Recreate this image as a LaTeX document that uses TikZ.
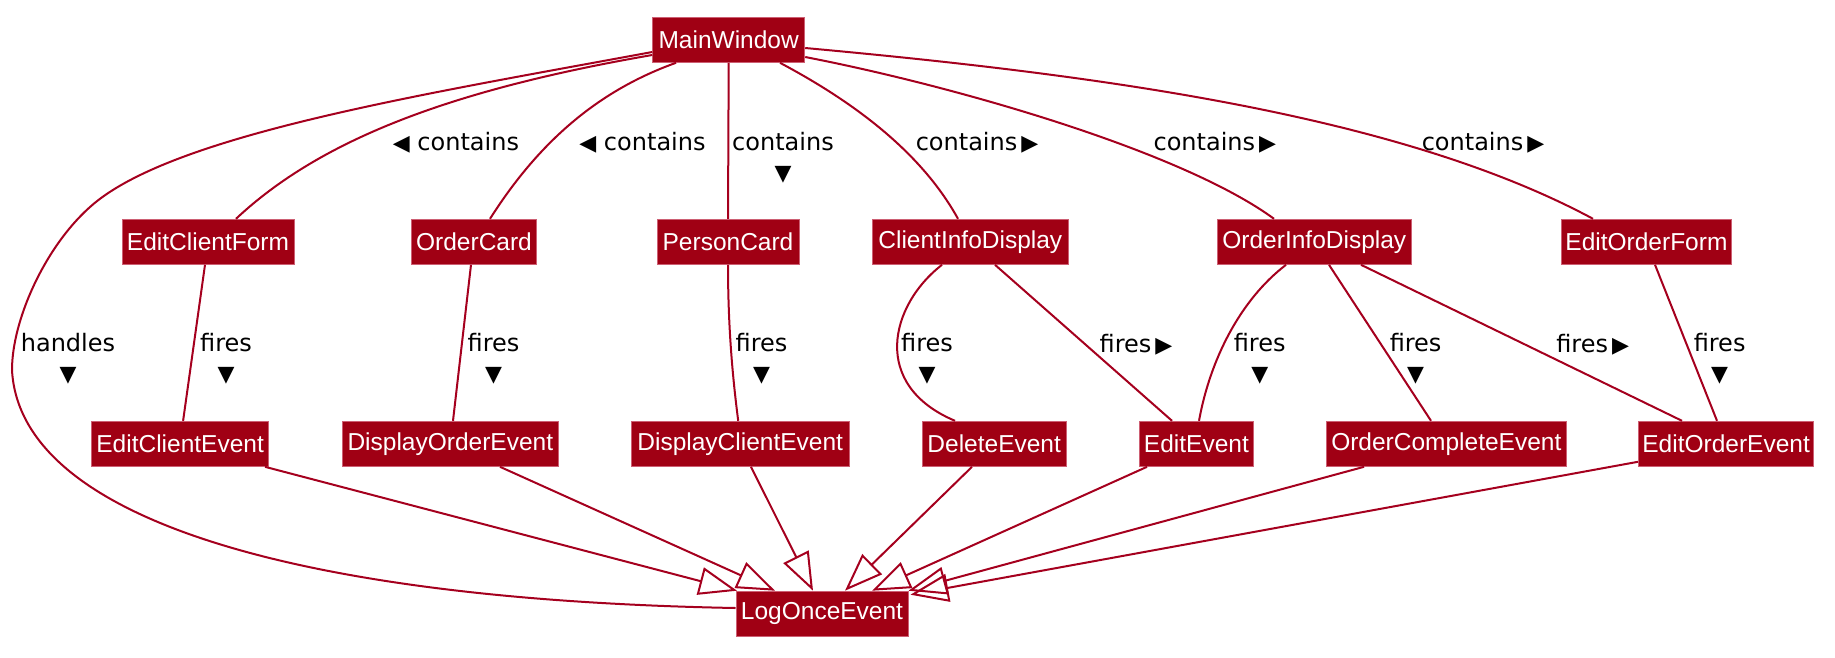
\documentclass[tikz,border=0pt]{standalone}
\usepackage{fontspec}
\setmainfont{DejaVu Sans}
\newfontfamily\boxfont{Liberation Sans}
\usetikzlibrary{arrows.meta}
\definecolor{boxfill}{RGB}{160,0,20}
\definecolor{boxline}{RGB}{205,95,115}
\definecolor{edgecol}{RGB}{165,0,30}
\newcommand\tridown{{\fontsize{22}{22}\selectfont ▼}}
\newcommand\trileft{{\fontsize{22}{22}\selectfont ◀}}
\newcommand\triright{\kern4pt{\fontsize{22}{22}\selectfont ▶}}
\begin{document}
\begin{tikzpicture}[x=1pt,y=-1pt,
  cls/.style={fill=boxfill, draw=boxline, line width=1pt, text=white,
    font=\boxfont\fontsize{24.5}{24.5}\selectfont, minimum height=45pt, inner sep=0pt},
  lbl/.style={font=\fontsize{24}{30}\selectfont, inner sep=0pt, align=center, text=black},
  rel/.style={draw=edgecol, line width=2pt},
  inh/.style={rel, -{Triangle[open, length=38pt, width=28pt]}}]
\useasboundingbox (0,0) rectangle (1835,657);

% classes
\node[cls, minimum width=152pt] (mw) at (728.7,39.8) {MainWindow};
\node[cls, minimum width=172pt] (ecf) at (208,241.8) {EditClientForm};
\node[cls, minimum width=125.6pt] (oc) at (474,241.8) {OrderCard};
\node[cls, minimum width=142pt] (pc) at (728,241.8) {PersonCard};
\node[cls, minimum width=195.6pt] (cid) at (970.3,241.8) {ClientInfoDisplay};
\node[cls, minimum width=194.2pt] (oid) at (1314.3,241.8) {OrderInfoDisplay};
\node[cls, minimum width=169.5pt] (eof) at (1646.4,241.8) {EditOrderForm};
\node[cls, minimum width=177.2pt] (ecev) at (180.1,443.8) {EditClientEvent};
\node[cls, minimum width=215.4pt] (doe) at (450.3,443.8) {DisplayOrderEvent};
\node[cls, minimum width=217.7pt] (dce) at (740.2,443.8) {DisplayClientEvent};
\node[cls, minimum width=144.4pt] (de) at (994.2,443.8) {DeleteEvent};
\node[cls, minimum width=113.3pt] (ee) at (1196.4,443.8) {EditEvent};
\node[cls, minimum width=240pt] (oce) at (1446.3,443.8) {OrderCompleteEvent};
\node[cls, minimum width=175.4pt] (eoe) at (1726.1,443.8) {EditOrderEvent};
\node[cls, minimum width=172pt] (lo) at (822,613.7) {LogOnceEvent};

% MainWindow relations
\draw[rel] ([yshift=-12.2pt]mw.west) .. controls (420,95) and (170,135) .. (90,207)
  .. controls (45,247) and (12,320) .. (12,370)
  .. controls (20,520) and (300,600) .. ([yshift=5.7pt]lo.west);
\draw[rel] ([yshift=-15.2pt]mw.west) .. controls (450,90) and (320,140) .. ([xshift=28pt]ecf.north);
\draw[rel] ([xshift=-52.7pt]mw.south) .. controls (600,90) and (540,140) .. ([xshift=16pt]oc.north);
\draw[rel] (mw.south) -- (pc.north);
\draw[rel] ([xshift=51.3pt]mw.south) .. controls (850,100) and (920,150) .. ([xshift=-12.3pt]cid.north);
\draw[rel] ([yshift=-17.2pt]mw.east) .. controls (950,85) and (1180,150) .. ([xshift=-40.3pt]oid.north);
\draw[rel] ([yshift=-8.2pt]mw.east) .. controls (1100,75) and (1400,115) .. ([xshift=-53.4pt]eof.north);

% fires
\draw[rel] ([xshift=-3pt]ecf.south) -- ([xshift=3pt]ecev.north);
\draw[rel] ([xshift=-3pt]oc.south) -- ([xshift=2.7pt]doe.north);
\draw[rel] (pc.south) .. controls (728,330) and (733,380) .. ([xshift=-2pt]dce.north);
\draw[rel] ([xshift=-28.3pt]cid.south) .. controls (890,305) and (870,385) .. ([xshift=-39.2pt]de.north);
\draw[rel] ([xshift=24.7pt]cid.south) -- ([xshift=-24.4pt]ee.north);
\draw[rel] ([xshift=-28.3pt]oid.south) .. controls (1240,300) and (1210,360) .. ([xshift=2.6pt]ee.north);
\draw[rel] ([xshift=14.7pt]oid.south) -- ([xshift=-15.3pt]oce.north);
\draw[rel] ([xshift=46.7pt]oid.south) -- ([xshift=-44.1pt]eoe.north);
\draw[rel] ([xshift=8.6pt]eof.south) -- ([xshift=-9.1pt]eoe.north);

% inheritance
\draw[inh] ([xshift=84.9pt]ecev.south) -- ([xshift=-85pt]lo.north);
\draw[inh] ([xshift=49.7pt]doe.south) -- ([xshift=-47pt]lo.north);
\draw[inh] ([xshift=10.8pt]dce.south) -- ([xshift=-9pt]lo.north);
\draw[inh] ([xshift=-22.2pt]de.south) -- ([xshift=23pt]lo.north);
\draw[inh] ([xshift=-49.4pt]ee.south) -- ([xshift=50pt]lo.north);
\draw[inh] ([xshift=-82.3pt]oce.south) -- (lo.north east);
\draw[inh] ([yshift=-18pt]eoe.west) -- ([xshift=2pt,yshift=-4pt]lo.north east);

% labels
\node[lbl] at (456,143) {\trileft\ contains};
\node[lbl] at (642.5,143) {\trileft\ contains};
\node[lbl] at (783,158) {contains\\\tridown};
\node[lbl] at (977,143) {contains\triright};
\node[lbl] at (1214.8,143) {contains\triright};
\node[lbl] at (1483,143) {contains\triright};
\node[lbl] at (68,359) {handles\\\tridown};
\node[lbl] at (226,359) {fires\\\tridown};
\node[lbl] at (493.5,359) {fires\\\tridown};
\node[lbl] at (761.5,359) {fires\\\tridown};
\node[lbl] at (927,359) {fires\\\tridown};
\node[lbl] at (1136,345) {fires\triright};
\node[lbl] at (1259.7,359) {fires\\\tridown};
\node[lbl] at (1415.6,359) {fires\\\tridown};
\node[lbl] at (1592.6,345) {fires\triright};
\node[lbl] at (1719.6,359) {fires\\\tridown};
\end{tikzpicture}
\end{document}
